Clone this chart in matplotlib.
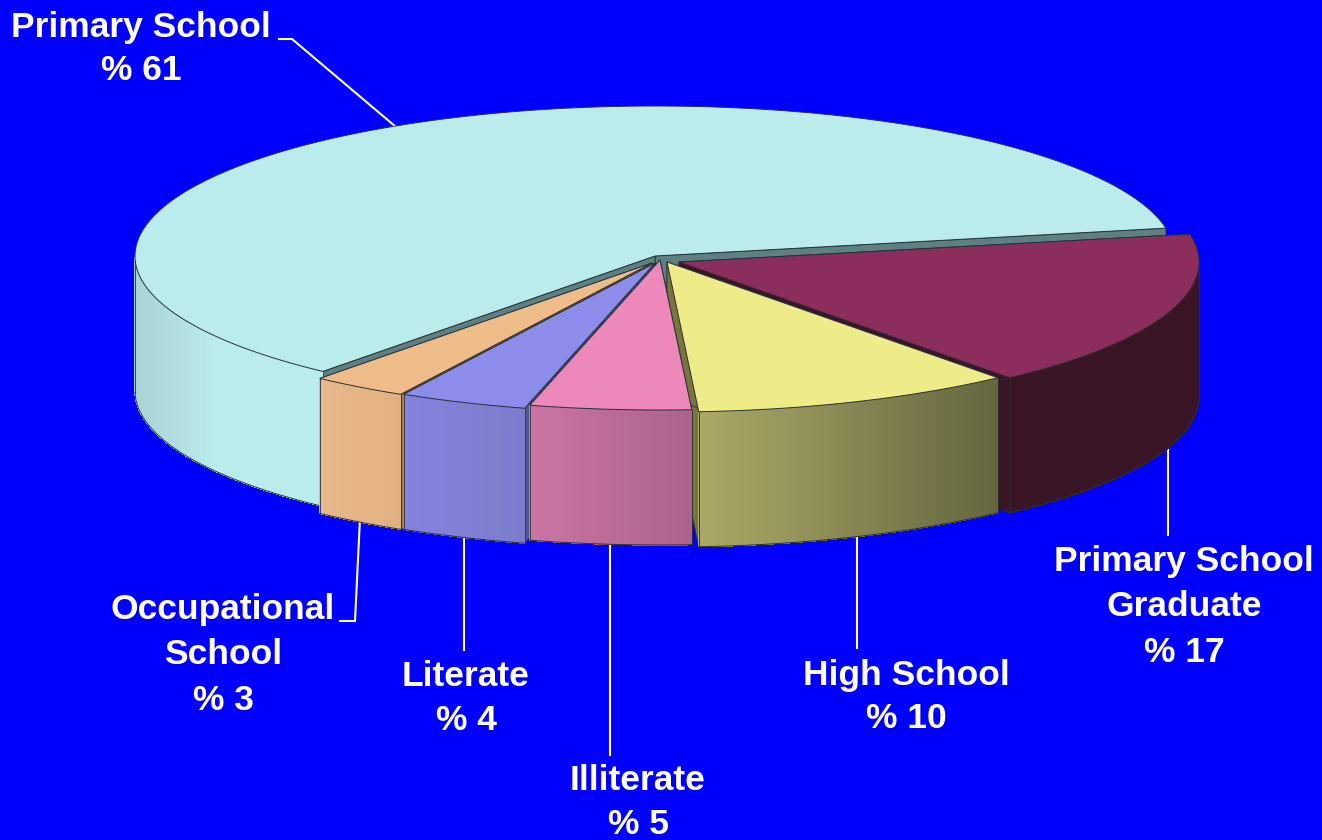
import numpy as np
import matplotlib
matplotlib.use('Agg')
import matplotlib.pyplot as plt
from matplotlib.collections import PolyCollection
from matplotlib.patches import Polygon

# Slice values in percent, going counter-clockwise from the right
categories = ['Primary School', 'Occupational School', 'Literate',
              'Illiterate', 'High School', 'Primary School Graduate']
values = [61, 3, 4, 5, 10, 17]

# Label lines, one list per slice
label_lines = [['Primary School', '% 61'],
               ['Occupational', 'School', '% 3'],
               ['Literate', '% 4'],
               ['Illiterate', '% 5'],
               ['High School', '% 10'],
               ['Primary School', 'Graduate', '% 17']]

# Styles
BG = '#0000ff'
top_colors = ['#bbecec', '#eebc88', '#8c8ceb', '#ec88ba', '#eeec88', '#8c2e5c']
wall_colors = ['#5e8080', '#a07850', '#555590', '#8a5070', '#76763e', '#3a1525']
side_left = ['#a8d2d3', '#e8b98a', '#8583dc', '#cc74a3', '#aba966', '#3a1525']
side_right = ['#bbecec', '#e0b080', '#7b7ccb', '#aa638b', '#666640', '#3a1525']

# Each slice is pulled a little off the middle of the pie (pixels)
centers = [(655, 256), (652, 263), (655, 263), (660, 260), (667, 262), (679, 262)]
# drawing order, back to front
draw_order = [0, 5, 4, 1, 2, 3]

label_x = [141, 223, 466, 638, 906, 1184]
label_y = [[25, 68], [607, 651, 697], [674, 718], [778, 822], [672, 716], [558, 603, 649]]
leaders = [[(279, 39), (292, 39), (396, 127)],
           [(360, 518), (355, 621), (340, 621)],
           [(464, 535), (464, 650)],
           [(610, 545), (610, 755)],
           [(857, 535), (857, 648)],
           [(1168, 445), (1168, 535)]]

RX, RY = 520, 150
DEPTH = 135
START = 10.7
EDGE = '#2a3038'


def rim(center, t_deg):
    t = np.radians(t_deg)
    return np.column_stack([center[0] + RX * np.cos(t), center[1] - RY * np.sin(t)])


def mix(c1, c2, f):
    a = np.array(matplotlib.colors.to_rgb(c1))
    b = np.array(matplotlib.colors.to_rgb(c2))
    return tuple(a + (b - a) * f)


def draw_slice(ax, i, t0, t1):
    center = centers[i]
    drop = np.array([0, DEPTH])
    ts = np.linspace(t0, t1, 200)
    pts = rim(center, ts)

    # flat walls along the two cuts
    for t in (t0, t1):
        p = rim(center, np.array([t]))[0]
        wall = [center, p, p + drop, np.array(center) + drop]
        ax.add_patch(Polygon(wall, fc=wall_colors[i], ec=EDGE, lw=0.6, zorder=2))

    # curved side, only the part facing the viewer
    front = ts[(ts % 360) >= 180]
    if len(front) > 1:
        fp = rim(center, front)
        x0, x1 = fp[:, 0].min(), fp[:, 0].max()
        quads, cols = [], []
        for a, b in zip(fp[:-1], fp[1:]):
            quads.append([a, b, b + drop, a + drop])
            f = ((a[0] + b[0]) / 2 - x0) / (x1 - x0)
            if i == 0:
                f = min(f * 2.2, 1)  # pale part of the big slice levels off early
            cols.append(mix(side_left[i], side_right[i], f))
        ax.add_collection(PolyCollection(quads, facecolors=cols, edgecolors=cols,
                                         linewidths=0.3, antialiaseds=False, zorder=2))
        order = fp[np.argsort(fp[:, 0])]
        ax.plot(order[:, 0], order[:, 1] + DEPTH, color=EDGE, lw=0.7, zorder=2)
        ax.plot([order[0, 0]] * 2, [order[0, 1], order[0, 1] + DEPTH], color=EDGE, lw=0.6, zorder=2)
        ax.plot([order[-1, 0]] * 2, [order[-1, 1], order[-1, 1] + DEPTH], color=EDGE, lw=0.6, zorder=2)

    # top face
    top = np.vstack([[center], pts])
    ax.add_patch(Polygon(top, fc=top_colors[i], ec=EDGE, lw=0.7, zorder=2))


fig = plt.figure(figsize=(13.22, 8.4), dpi=100, facecolor=BG)
ax = fig.add_axes([0, 0, 1, 1])
ax.set_xlim(0, 1322)
ax.set_ylim(840, 0)
ax.axis('off')

spans = np.array(values) / sum(values) * 360.0
starts = START + np.concatenate([[0], np.cumsum(spans)[:-1]])

for i in draw_order:
    draw_slice(ax, i, starts[i], starts[i] + spans[i])

for pts in leaders:
    xs, ys = zip(*pts)
    ax.plot(xs, ys, color='white', lw=1.5, zorder=1, solid_joinstyle='miter')

for lines, x, ys in zip(label_lines, label_x, label_y):
    for line, y in zip(lines, ys):
        ax.text(x, y + 3, line, color='white', fontsize=25.5, fontweight='bold',
                family='Liberation Sans', ha='center', va='center', zorder=3)

fig.savefig('out.png', dpi=100, facecolor=BG)
